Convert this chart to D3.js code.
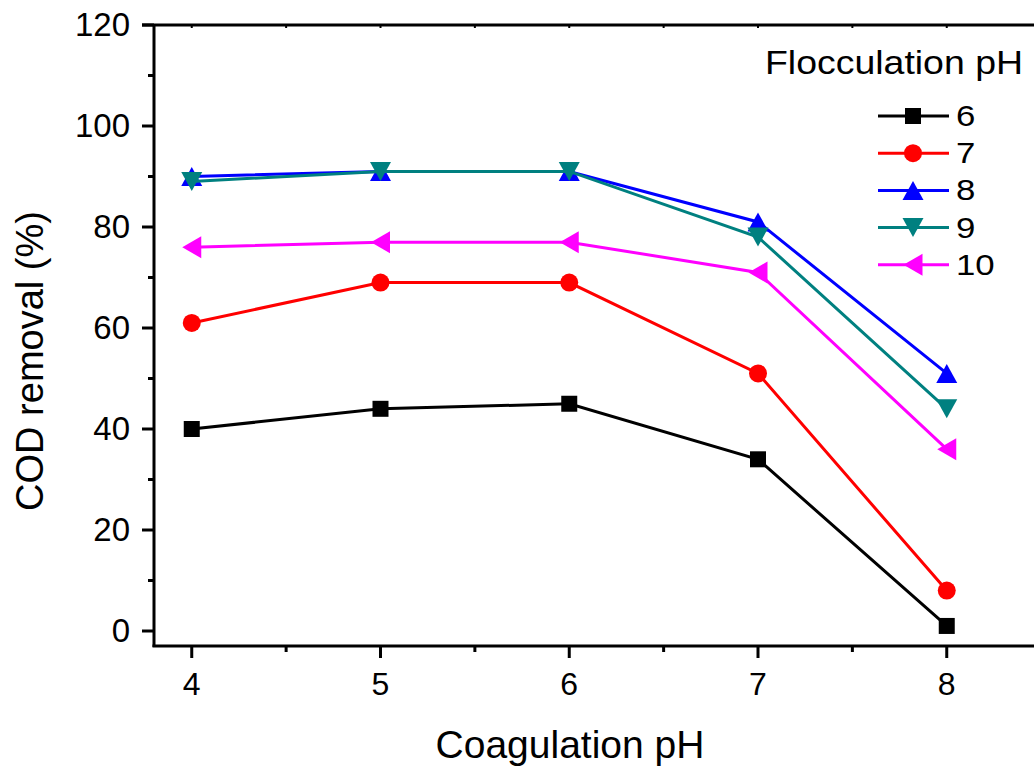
<!DOCTYPE html>
<html lang="en">
  <head>
    <meta charset="utf-8" />
    <title>COD removal vs coagulation pH</title>
    <script src="https://d3js.org/d3.v7.min.js"></script>
    <style type="text/css">
      body { margin: 0; background: #fff; }
      text { font-family: 'Liberation Sans', Arial, sans-serif; fill: #000; }
    </style>
  </head>
  <body>
    <script type="text/javascript">
      const w = 1034;
      const h = 766;

      const coagPH = [4, 5, 6, 7, 8];
      const seriesNames = ['6', '7', '8', '9', '10'];
      const ph6 = [40, 44, 45, 34, 1];
      const ph7 = [61, 69, 69, 51, 8];
      const ph8 = [90, 91, 91, 81, 51];
      const ph9 = [89, 91, 91, 78, 44];
      const ph10 = [76, 77, 77, 71, 36];
      const yTicks = [0, 20, 40, 60, 80, 100, 120];

      const colors = ['#000000', '#ff0000', '#0000ff', '#008080', '#ff00ff'];
      const symbols = ['square', 'circle', 'up', 'down', 'left'];
      const allSeries = [ph6, ph7, ph8, ph9, ph10];

      const plotLeft = 154, plotBottom = 646, plotTop = 25;
      const x = d3.scaleLinear().domain([3.8, 8.5]).range([plotLeft, plotLeft + 4.7 * 188.75]);
      const y = d3.scaleLinear().domain([0, 120]).range([631, 25]);

      const svg = d3.select('body').append('svg').attr('width', w).attr('height', h);

      // frame lines
      svg.append('line').attr('x1', plotLeft).attr('x2', plotLeft).attr('y1', plotTop).attr('y2', plotBottom + 1)
        .attr('stroke', '#000').attr('stroke-width', 3);
      svg.append('line').attr('x1', plotLeft - 1.5).attr('x2', w).attr('y1', plotBottom).attr('y2', plotBottom)
        .attr('stroke', '#000').attr('stroke-width', 3);
      svg.append('line').attr('x1', plotLeft - 12).attr('x2', w).attr('y1', plotTop).attr('y2', plotTop)
        .attr('stroke', '#000').attr('stroke-width', 3);

      // y ticks
      const yMinor = d3.range(10, 120, 20);
      svg.selectAll('.ymaj').data(yTicks).enter().append('line')
        .attr('x1', plotLeft - 12).attr('x2', plotLeft).attr('y1', d => y(d)).attr('y2', d => y(d))
        .attr('stroke', '#000').attr('stroke-width', 3);
      svg.selectAll('.ymin').data(yMinor).enter().append('line')
        .attr('x1', plotLeft - 6).attr('x2', plotLeft).attr('y1', d => y(d)).attr('y2', d => y(d))
        .attr('stroke', '#000').attr('stroke-width', 3);
      svg.selectAll('.ylab').data(yTicks).enter().append('text')
        .attr('x', plotLeft - 24).attr('y', d => y(d) + 11).attr('text-anchor', 'end')
        .attr('font-size', '33px').text(d => d);

      // x ticks
      const xMinor = [4.5, 5.5, 6.5, 7.5];
      svg.selectAll('.xmaj').data(coagPH).enter().append('line')
        .attr('x1', d => x(d)).attr('x2', d => x(d)).attr('y1', plotBottom).attr('y2', plotBottom + 12)
        .attr('stroke', '#000').attr('stroke-width', 3);
      svg.selectAll('.xmin').data(xMinor).enter().append('line')
        .attr('x1', d => x(d)).attr('x2', d => x(d)).attr('y1', plotBottom).attr('y2', plotBottom + 6)
        .attr('stroke', '#000').attr('stroke-width', 3);
      // top mirror ticks
      svg.selectAll('.xtop').data(coagPH.concat(xMinor)).enter().append('line')
        .attr('x1', d => x(d)).attr('x2', d => x(d)).attr('y1', plotTop).attr('y2', plotTop + 3)
        .attr('stroke', '#000').attr('stroke-width', 2);
      svg.selectAll('.xlab').data(coagPH).enter().append('text')
        .attr('x', d => x(d)).attr('y', 695).attr('text-anchor', 'middle')
        .attr('font-size', '32px').text(d => d);

      // axis titles
      svg.append('text').attr('x', 570).attr('y', 758).attr('text-anchor', 'middle')
        .attr('font-size', '39px').text('Coagulation pH');
      svg.append('text').attr('transform', 'translate(43,361) rotate(-90)')
        .attr('text-anchor', 'middle').attr('font-size', '38px').text('COD removal (%)');

      function marker(g, type, color) {
        if (type === 'square') {
          g.append('rect').attr('x', -8).attr('y', -8).attr('width', 16).attr('height', 16).attr('fill', color);
        } else if (type === 'circle') {
          g.append('circle').attr('r', 9).attr('fill', color);
        } else {
          const pts = {
            up: [[0, -9.5], [10.5, 9.5], [-10.5, 9.5]],
            down: [[0, 9.5], [10.5, -9.5], [-10.5, -9.5]],
            left: [[-9.5, 0], [9.5, -11], [9.5, 11]]
          }[type];
          g.append('polygon').attr('points', pts.map(p => p.join(',')).join(' ')).attr('fill', color);
        }
      }

      const line = d3.line().x((d, i) => x(coagPH[i])).y(d => y(d));

      allSeries.forEach((vals, s) => {
        svg.append('path').datum(vals).attr('d', line).attr('fill', 'none')
          .attr('stroke', colors[s]).attr('stroke-width', 3);
        vals.forEach((v, i) => {
          const g = svg.append('g').attr('transform', `translate(${x(coagPH[i])},${y(v)})`);
          marker(g, symbols[s], colors[s]);
        });
      });

      // legend
      svg.append('text').attr('x', 765).attr('y', 74).attr('font-size', '33px')
        .attr('textLength', 258).attr('lengthAdjust', 'spacingAndGlyphs').text('Flocculation pH');
      seriesNames.forEach((name, s) => {
        const ly = 116 + s * 37.2;
        svg.append('line').attr('x1', 878).attr('x2', 949).attr('y1', ly).attr('y2', ly)
          .attr('stroke', colors[s]).attr('stroke-width', 3);
        const g = svg.append('g').attr('transform', `translate(913,${ly})`);
        marker(g, symbols[s], colors[s]);
        svg.append('text').attr('transform', `translate(956,${ly + 10}) scale(1.2,1)`)
          .attr('font-size', '29px').text(name);
      });
    </script>
  </body>
</html>
